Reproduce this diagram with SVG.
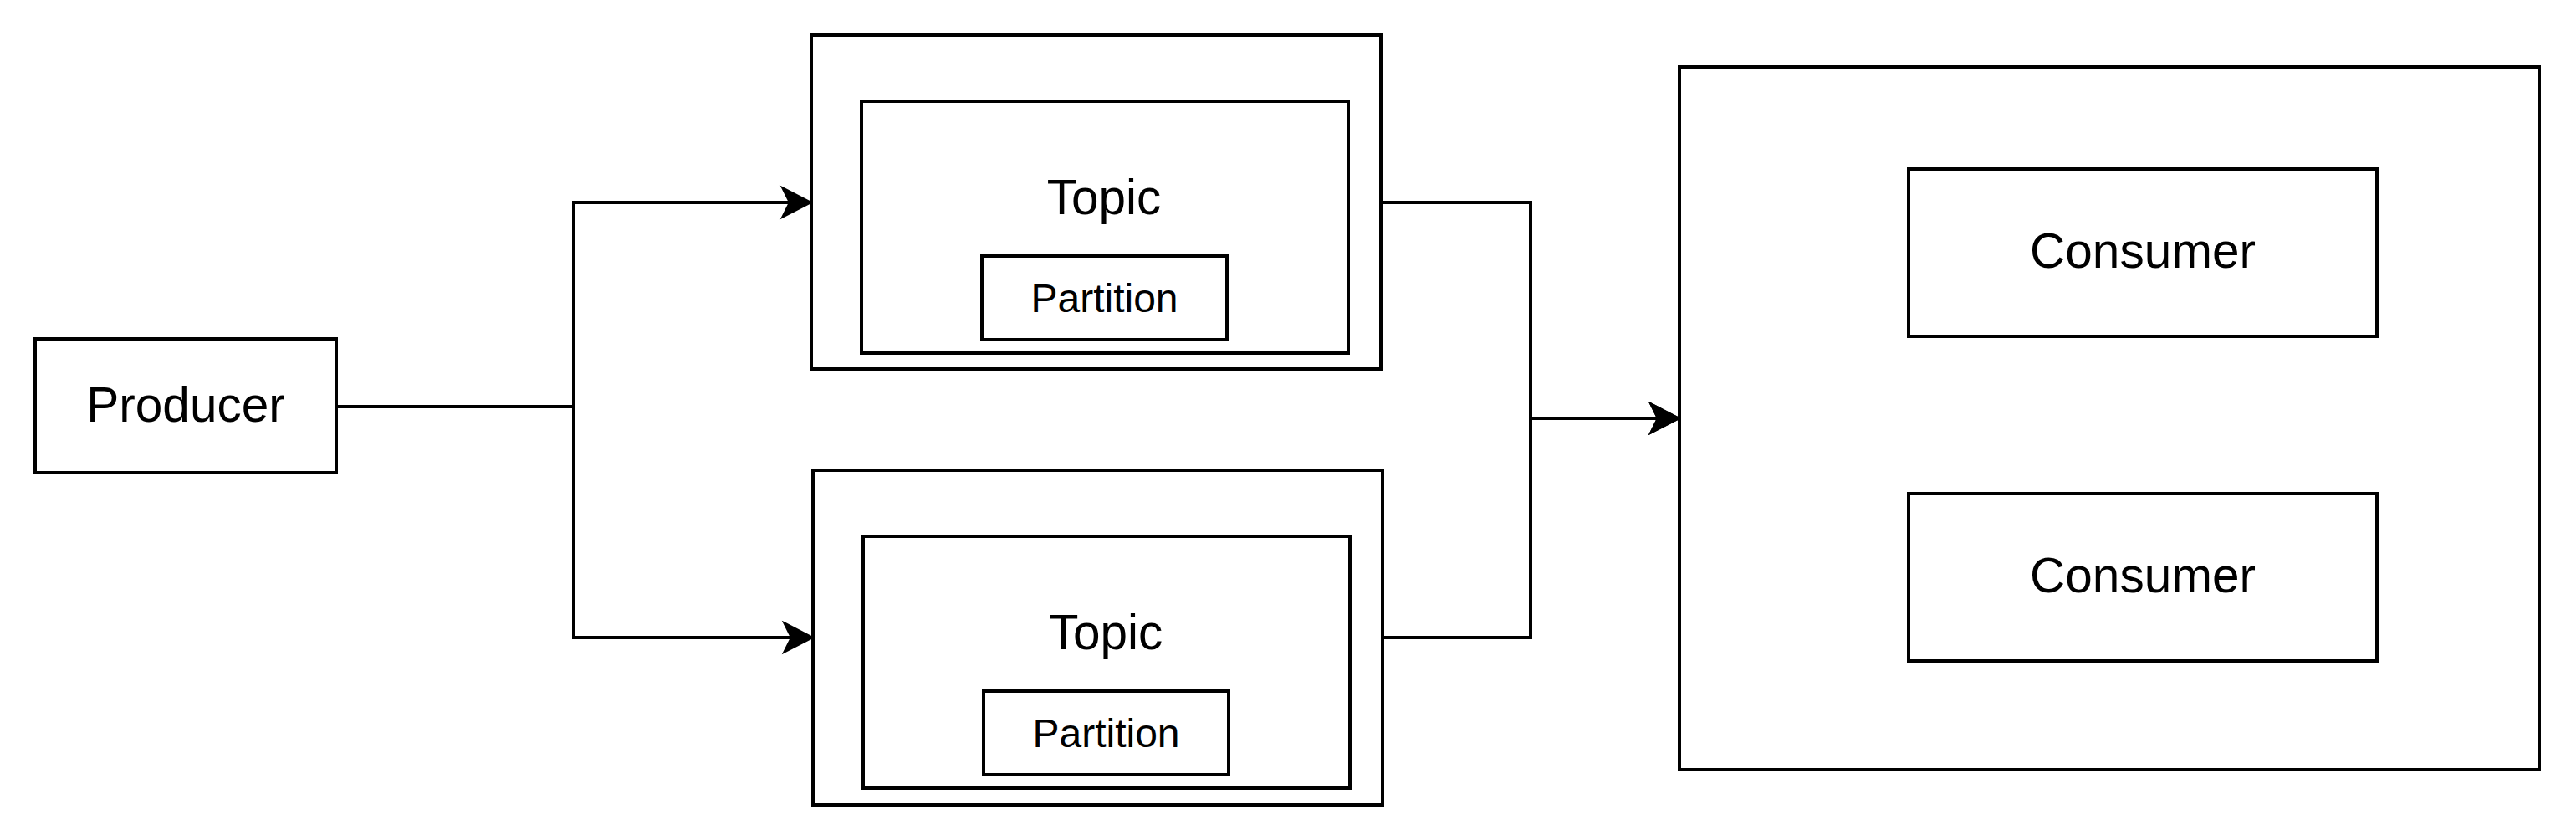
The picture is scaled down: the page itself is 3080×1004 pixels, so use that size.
<svg xmlns="http://www.w3.org/2000/svg" width="3080" height="1004" viewBox="0 0 3080 1004">
  <style>
    .box { fill: #ffffff; stroke: #000000; stroke-width: 4; }
    .lbl { font-family: "Liberation Sans", Arial, Helvetica, sans-serif; fill: #000000; text-anchor: middle; }
    .big { font-size: 58.5px; }
    .small { font-size: 48px; }
    .edge { fill: none; stroke: #000000; stroke-width: 4; marker-end: url(#arrow); }
  </style>
  <defs>
    <marker id="arrow" markerUnits="userSpaceOnUse" markerWidth="40" markerHeight="40" refX="9" refY="18" orient="auto" overflow="visible">
      <path d="M 0 0 L 35 18 L 0 36 L 9 18 Z" fill="#000000" stroke="#000000" stroke-width="2" stroke-linejoin="miter"/>
    </marker>
  </defs>
  <rect width="3080" height="1004" fill="#ffffff"/>

  <g id="connectors">
    <path class="edge" d="M 402 486 L 686 486 L 686 242 L 944 242"/>
    <path class="edge" d="M 686 486 L 686 762 L 946 762"/>
    <path class="edge" d="M 1651 242 L 1830 242 L 1830 500 L 1982 500"/>
    <path class="edge" d="M 1653 762 L 1830 762 L 1830 500 L 1982 500"/>
  </g>

  <g id="producer">
    <rect class="box" x="42" y="405" width="360" height="160"/>
    <text class="lbl big" x="222" y="503.5">Producer</text>
  </g>

  <g id="topic1">
    <rect class="box" x="970" y="42" width="681" height="399"/>
    <rect class="box" x="1030" y="121" width="582" height="301"/>
    <text class="lbl big" x="1320" y="255.5">Topic</text>
    <g id="partition1">
      <rect class="box" x="1174" y="306" width="293" height="100"/>
      <text class="lbl small" x="1320.5" y="372.5">Partition</text>
    </g>
  </g>

  <g id="topic2">
    <rect class="box" x="972" y="562" width="681" height="400"/>
    <rect class="box" x="1032" y="641" width="582" height="301"/>
    <text class="lbl big" x="1322" y="775.5">Topic</text>
    <g id="partition2">
      <rect class="box" x="1176" y="826" width="293" height="100"/>
      <text class="lbl small" x="1322.5" y="892.5">Partition</text>
    </g>
  </g>

  <g id="consumer-group">
    <rect class="box" x="2008" y="80" width="1028" height="840"/>
    <g id="consumer1">
      <rect class="box" x="2282" y="202" width="560" height="200"/>
      <text class="lbl big" x="2562" y="320">Consumer</text>
    </g>
    <g id="consumer2">
      <rect class="box" x="2282" y="590" width="560" height="200"/>
      <text class="lbl big" x="2562" y="708">Consumer</text>
    </g>
  </g>
</svg>
